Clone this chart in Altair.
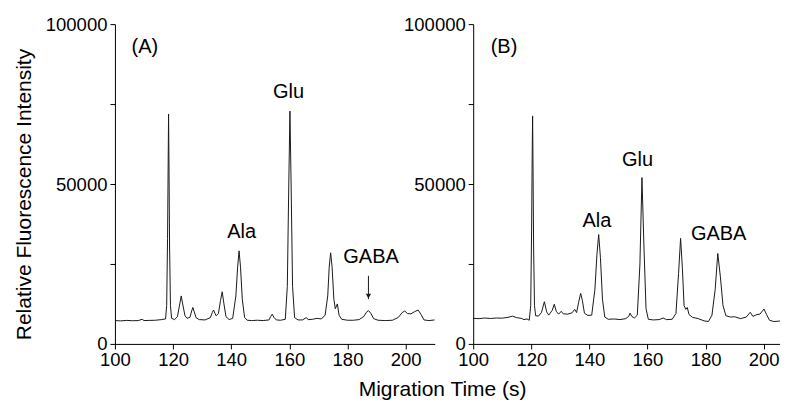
import altair as alt
import pandas as pd

# ---------------- data ----------------
time_a = [100.0, 102, 104, 106, 108, 109.4, 110, 112, 114, 116, 117.4, 117.8, 118.1, 118.3, 118.45,
          118.6, 118.8, 119.1, 119.5, 120.5, 121.5, 122.3, 122.8, 123.3, 124.1, 124.8, 125.8, 126.4,
          126.8, 127.3, 127.9, 129, 131, 132.8, 133.5, 133.9, 134.4, 134.8, 135.6, 136.3, 136.9,
          137.5, 138.2, 139.3, 140.5, 141.6, 142.2, 142.7, 143.2, 143.8, 144.6, 145.5, 147, 149,
          151, 153, 153.6, 154.1, 154.7, 155.5, 157, 158.6, 159.3, 159.8, 160.2, 160.6, 161.1,
          161.8, 163, 164.5, 165.8, 166.5, 168, 169.5, 171, 172.3, 173.2, 173.7, 174.2, 174.7,
          175.3, 175.8, 176.5, 177.1, 178, 180, 182, 184, 185.6, 186.5, 187.2, 188, 189, 190.5,
          193, 195.5, 197.5, 198.8, 199.7, 200.6, 201.8, 203.1, 204.3, 205.3, 206.3, 208, 210]
intensity_a = [7300, 7200, 7350, 7250, 7300, 7700, 7300, 7350, 7400, 7600, 7800, 12000, 33000, 55000, 71900,
               55000, 30000, 12000, 8000, 7600, 8500, 12500, 15000, 12500, 8800, 8000, 8300, 10300,
               11400, 10000, 8200, 7600, 7500, 8200, 9800, 10600, 9600, 8800, 9500, 13500, 16300,
               12500, 8500, 7600, 8000, 15000, 24000, 29100, 24000, 14000, 8300, 7400, 7300, 7400,
               7300, 7500, 8600, 9300, 8300, 7500, 7400, 7700, 18000, 50000, 72800, 50000, 18000,
               8200, 7500, 7500, 8200, 7600, 7700, 8000, 7800, 9000, 15000, 24000, 28500, 24000,
               14000, 11000, 12500, 9000, 7700, 7400, 7400, 7600, 8600, 9900, 10400, 9600, 7900, 7400,
               7300, 7400, 8300, 9800, 10300, 9500, 9400, 10100, 10600, 9200, 7500, 7300, 7500]

time_b = [100.0, 102, 104, 106, 108, 110, 112, 113.5, 115, 116.5, 117.5, 118.5, 119.3, 119.8, 120.1,
          120.3, 120.45, 120.6, 120.8, 121.1, 121.5, 122.5, 123.5, 124.5, 125.3, 126, 127.2, 127.9,
          128.6, 129.4, 130.3, 131, 132.5, 134, 134.95, 135.6, 136.3, 137, 137.6, 138.3, 139.5,
          140.8, 141.9, 142.6, 143.2, 143.8, 144.5, 145.3, 146.5, 148.5, 150.5, 152.5, 153.5, 154,
          154.6, 155.5, 156.5, 157.4, 158.1, 158.8, 159.5, 160.3, 162, 164, 165.4, 166.5, 168.5,
          169.8, 170.7, 171.4, 172, 172.6, 173.2, 173.7, 174.3, 175.5, 177.5, 179.5, 181, 182.2,
          183.3, 184.2, 185.1, 186, 187, 188.6, 190, 192, 194, 195.4, 196.3, 197.7, 198.7, 200.1,
          201, 202, 203.5, 205, 206.6, 207]
intensity_b = [8000, 7900, 8100, 7950, 8100, 8050, 8300, 8700, 8200, 8000, 7600, 7800, 7400, 12000, 35000,
               58000, 71300, 55000, 30000, 12000, 8800, 8700, 9800, 13200, 10000, 9000, 10500, 12400,
               10200, 9300, 10200, 9400, 9300, 9700, 10800, 9800, 13000, 15800, 13500, 9600, 8900,
               9000, 17000, 28000, 34200, 27000, 14000, 8400, 7700, 7800, 7600, 7900, 8600, 9600,
               8600, 8100, 9000, 25000, 52000, 30000, 11000, 7700, 7500, 7600, 8100, 7600, 7700,
               9500, 22000, 33000, 24000, 12000, 10800, 11400, 9200, 8300, 7900, 7200, 7000, 9000,
               17000, 28300, 21000, 12000, 8800, 8400, 8500, 7900, 8400, 9900, 8600, 9200, 9300, 10900,
               9200, 7400, 7000, 7100, 7300, 7600]

labels_a_text = ["(A)", "Ala", "Glu", "GABA"]
labels_a_time = [110.3, 143.6, 159.7, 188.1]
labels_a_value = [90840, 33125, 76780, 25310]

labels_b_text = ["(B)", "Ala", "Glu", "GABA"]
labels_b_time = [110.6, 142.6, 156.6, 184.5]
labels_b_value = [90840, 36660, 55720, 32500]

arrow_time = [187.2]
arrow_top = [21300]
arrow_tip = [14000]

x_ticks_a = [100, 110, 120, 130, 140, 150, 160, 170, 180, 190, 200, 210]
x_ticks_b = [100, 110, 120, 130, 140, 150, 160, 170, 180, 190, 200]
y_ticks = [0, 25000, 50000, 75000, 100000]

FONT = "Liberation Sans"
INK = "#1a1a1a"


def panel(times, values, ltext, ltime, lvalue, xmax, width, ytitle, arrow=False):
    df = pd.DataFrame({"t": times, "v": values})
    lab = pd.DataFrame({"text": ltext, "t": ltime, "v": lvalue})
    xs = alt.Scale(domain=[100, xmax], nice=False, zero=False)
    ys = alt.Scale(domain=[0, 100000], nice=False)
    xaxis = alt.Axis(values=x_ticks_a if xmax > 208 else x_ticks_b, format="d",
                     labelExpr="datum.value % 20 == 0 ? datum.label : ''")
    yaxis_kw = dict(values=y_ticks, format="d", labelPadding=3,
                    labelExpr="datum.value % 50000 == 0 ? datum.label : ''")
    if ytitle:
        yaxis = alt.Axis(title=ytitle, titleY=170, **yaxis_kw)
    else:
        yaxis = alt.Axis(title=None, **yaxis_kw)

    line = alt.Chart(df).mark_line(color=INK, strokeWidth=1, clip=True).encode(
        x=alt.X("t:Q", scale=xs, axis=xaxis, title=None),
        y=alt.Y("v:Q", scale=ys, axis=yaxis),
        order="t:Q",
    )
    text = alt.Chart(lab).mark_text(font=FONT, fontSize=20, color="black",
                                    align="center", baseline="alphabetic").encode(
        x=alt.X("t:Q", scale=xs),
        y=alt.Y("v:Q", scale=ys),
        text="text:N",
    )
    layers = [line, text]
    if arrow:
        adf = pd.DataFrame({"t": arrow_time, "top": arrow_top, "tip": arrow_tip})
        shaft = alt.Chart(adf).mark_rule(color=INK, strokeWidth=1).encode(
            x=alt.X("t:Q", scale=xs), y=alt.Y("top:Q", scale=ys), y2="tip:Q")
        head = alt.Chart(adf).mark_point(shape="triangle-down", filled=True, color=INK,
                                         size=28, opacity=1, yOffset=-3).encode(
            x=alt.X("t:Q", scale=xs), y=alt.Y("tip:Q", scale=ys))
        layers += [shaft, head]
    return alt.layer(*layers).properties(width=width, height=320)


pa = panel(time_a, intensity_a, labels_a_text, labels_a_time, labels_a_value, 210, 320,
           "Relative Fluorescence Intensity", arrow=True)
pb = panel(time_b, intensity_b, labels_b_text, labels_b_time, labels_b_value, 207, 311, None)

chart = alt.hconcat(pa, pb, spacing=38.5, bounds="flush").properties(
    title=alt.TitleParams("Migration Time (s)", orient="bottom", anchor="middle",
                          font=FONT, fontSize=21, fontWeight="normal", color="black",
                          offset=10, dx=44),
    padding={"left": 5, "top": 7, "right": -4.5, "bottom": 0},
    background="white",
).configure_view(stroke=None).configure_axis(
    grid=False, domainColor="black", domainWidth=1, tickColor="black", tickWidth=1, tickSize=5,
    labelFont=FONT, labelFontSize=18.5, labelColor="black", labelPadding=2,
    labelFlush=False, labelOverlap=False, labelBound=False,
    titleFont=FONT, titleFontSize=21, titleFontWeight="normal", titleColor="black", titlePadding=11,
)

chart.save("out.html", embed_options={"renderer": "svg", "actions": False})
